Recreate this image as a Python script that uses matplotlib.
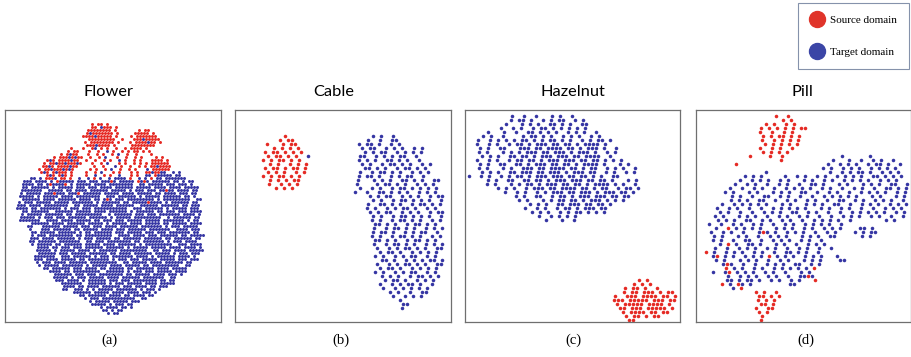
import matplotlib.pyplot as plt
from matplotlib.lines import Line2D

# t-SNE scatter maps.
# One string per grid row: "col segment col segment ...",
# r = source-domain sample, b = target-domain sample, . = empty cell.
flower_map = [
    "", "", "", "",
    "29 r.rr.r",
    "28 rr.brrr.r",
    "27 rrrrrrrr.r 44 r.rr",
    "27 rbrrrrrrr.r 43 rrrrr.r",
    "26 rrrrbrrrrr.r 42 r.rrrrrrr",
    "27 rrrrrrrrr..r 42 rrrbrrrrr",
    "26 r.rrrrrrrr.r 41 r.rrrrbrr.r",
    "27 rrrbrrrr.r 42 rrrrrrrr",
    "22 r 26 r..rb.r.r..r 37 r..r.rrrr.r",
    "20 r.rr 27 r..r..b.r..r.r.rr.r.r",
    "18 r.rbrr 27 r..r.r..r.b..r..r 48 r",
    "16 r.rrrbrbrr 28 r..r.b...r..r..r.r 50 r.r",
    "14 rbr.rrrrbrr 27 r..r..r.r..b.r..r.r 49 rrrr.r",
    "12 r.rrbrrbrrrbr 28 r..r.b...r.r..r.r.r 48 rrrrrr",
    "12 rrbr.rrrrbrr 29 r..r...b.r..r..r.r 48 rrbrrrr",
    "11 r.rrbrrrbrbr 28 r.r..r.b..r..r.r 47 b.rrrrrr",
    "12 rbr.rbrrr.r 27 r..r.b...r.r...r.r 47 rrbrrbb 56 b.b",
    "13 rbr.rbr.r 26 r..b..r.r..b...r.r..b 47 b.rbbbbb.bb",
    "8 bb.b.rrrb.rr.r 24 b..b.r.b..b.bbbb.r..b.b.r.bb.bbbbbbb",
    "6 bbb.bbbb.b.bbbbbb.bbb.bbb.bbbbb.bbbbb.bbbb.bbbbbb.bb.b.bb 17 r 35 r 44 r.r",
    "6 bbbb.bb.bbbbbbb.b.bbbbb.bbbb.bbbbbbbb..bb.bbbbb.bbb.bbb.b 15 r 20 r",
    "5 bb.bbbbbb.b.bbbbb.bbb.bbb.bbbb.bbbbbb.bbbbb.bbbb.bbbb.bbbbb",
    "5 bbbbbbb..bbbbb.bb.bbbb.bbbbbb.bbbbb.b.bbb.bbb.bbbbb.bbbb.bb 53 r",
    "5 b.bbbbb.bbb.bbb.bbbb.bbbbbb.bbbbb.bbbb.bbbbb.bb.bbbb.bbb.bb 16 r 24 r",
    "5 bbbbb.b.bbbbb.bbbb.bbbbbbbb..bbb.bbbbbb.b.bbbbb.bbbbbb.bb.b",
    "4 .bbbbbb.bbbb.bbbbbb.bbbb.bb.bbb.bbb.bbbbbbbbb.b.bbbbbbbbb..bb 33 r",
    "4 b.bbb.bbbbb.bbbbb.bbbbbbb.b.bbbbbb.bb.bbbbb.bbbb.b.bbbbbb.bb. 47 r",
    "4 bbb.bbbb.bbbbbbbb..bb.bbbbb.bbbb.bbbbbb..bbbbbb.bbbbbb.bb.bbb",
    "4 bbbb.bb.bbbbbbb.b.bbb.bbb.bbbbbbbbbbb..bbb.bbbbbb.b.bbbbb.bbb",
    "5 bb.bbbbbb..bbbbbb.bbbbb.bbbb.bbbbbb.b.bbbbbb.bb.bbb.bbb.bbbb",
    "5 b.bbbbb.bbbbbb.bb.bbbbbbbbb..b.bbbbbb.bbb.bbb.bbbbbbb.bbbb.b",
    "5 bbbbb.b.bbb.bbb.bbbbbb.bbbbbb.b.bbbbb.bbbbbbbbb..b.bbbbbb.bb",
    "5 bbbbbbb..bbbb.bbbb.bbbbb.bb.bbb.bbb.bbbbb.bbbbb.bbbbbbb.b.bb",
    "7 .bbbbbb.bbbb.bbbbbb.bbbbb.b.bbbbb.bbbb.bbbbb.bb.bbbbb.bbbb",
    "7 bb...bbbbbb.bbbbb.bbb.bbb.bbbb.bbbbbb.bbbbbbb.b.bbb.bbbbb.",
    "8 b...bbb.bbbbbb.bb.bbbbb.bbbb.bbb.bbbbbb.bbbbbbb..bbbb.bbb",
    "9 bb.bbbbb.bbbbbb.b.bb.bbbbbb.bbb.bbbbb.bbb.bbb.bbbbbbb.bb.",
    "8 b.bbb.bbbbbbbb.bb.bbbbbbbbb..bbbb.bbbb.bbb.bbbbbb.bb.bbbbb",
    "8 bbb.bbbb.bbbbbb.b.bbb.bbbbb.bb.bbbbbb.bbbbbb.bb.bbbbbb.bb.",
    "8 bb.bbbbbb.bbbbbbb..bb.bbb.bbbbbbbb.bb.bbbbbbb.b.bbb.bbbb.",
    "9 b.bbbbb.bb.bbbbbb.bbbbb.bbbb.bbbbbb.b.bbbbbbbbb..bbb.bbbb",
    "10 bbbb.bb.bbb.bbb.bbbbbb.bbbbbb.b.bbbbb.bbbbb.bbbb.bbbb.b.",
    "10 bbbbb.b.bbbbb.bbbb.b.bbbbbb.bbbbbbbbb..bb.bbb.bbbb.bbbbb",
    "10 .bbbbbb.bbb.bbbbb.bbbbbb.bb.bbbb.bbbbbb.bbbbb.b.bbb.bbb",
    "10 bbbbbbb..bbb.bbbbbb.b.bbb.bbbbbbb.bbbb.b.bbbbbb.bbbb.b.",
    "9 bbb.bbbb.bbbbb.bb.bbbbbbb.b.bbb.bbb.bbbbb.bbbbb.bbb.bbb",
    "10 b.bbb.bbbb.bbbbbb.bbbbbbbbb..bb.bbbbb.bbbb.bbbbbb.bb.",
    "11 b.bbbbb.bbbbbbb.b.bbbbb.bbbb.bbbbb.bb.bbbbbbbbb..bb",
    "13 bb.bbbbbb.bbb.bbbb.bb.bbbbb.bb.bbbbbb.bbbb.bbbbb",
    "14 bbbb.bb.bbbbbbbbb..bbbbbb.b.bbb.bbb.bbbbb.bbbb",
    "15 .bbbbbb.bbb.bbb.bbbbbbbb.bb.bbbbb.bbbb.bbb.b",
    "16 bbbbb.b.bbb.bbbbb.bbbb.bbbbbb.bbbbbbb..bb.",
    "17 bbb.bbbb.b.bbbbbb.bbb.bbb.bbbbbbbb.bb.bb",
    "18 bbbbbbb..bbbbbb.b.bbb.bbbbb.bbbb.bbbbb",
    "19 bbbb.bb.bbbb.bbbbbb.bbb.bbbb.bb.bbb",
    "19 bb..bbb.b.b.bbbbb.bbbbbbb.b.bbb.b",
    "22 .bbbbbb.bbbbb.bbbb.bbbb.bbb.b",
    "24 bb.bbbbbb.bbbb.bb.bbbb.bb",
    "26 b.bbb.bbbbbbbbbbb..bb.",
    "28 b.bbbbb.bbbbb.bbb.",
    "29 bbbbb.b.bbb.bb.",
    "31 b.bbbb.bb.b",
    "32 bb.b.bb.",
    "34 b.bb",
]

cable_map = [
    "", "", "", "", "", "",
    "12 r 34 b.b..b",
    "11 r.rr 33 b..b..bb",
    "8 r...r.rr 31 b.bb.b..b.b",
    "9 r.r.r.r 31 b.bb..b.b.b..b.b",
    "7 r.rr.r.r.r 31 .b.b.bb..b.b.b.b",
    "8 r.rr.r.r 18 b 31 bb..b.b.b.bb..b.",
    "7 r.r.rr.r.r 31 b.b.b..bb.b.b..b",
    "8 r.r..r.r.r 31 b.b..b.bb.b.b..b.b",
    "7 r.rr.r.rr.r 31 .bb.b.b..b.bb.b.b.",
    "8 r.r.r..r.r 31 b..b.bb.b.b..b.b.b",
    "7 r.r.rr.r.r 31 b.bb.b..b.b.bb..b.",
    "8 r.r.r.rr 30 b...b.b.b..bb.b.b..bb",
    "8 r..r.r.r 30 b....b.bb.b.b..b.b.b.",
    "10 r.r.r 30 .b..b.b..b.bb.b.b.b.b",
    "30 b..b..bb.b.b.b..b.b.b",
    "33 b.b.bb..b.b.b..b.bb",
    "33 .b.b..b.bb.b.b.b..b",
    "33 b..bb.b.b..b.bb.b.b",
    "33 b.b..b.b.bb.b..b.b.",
    "33 b.b.bb..b.b.b..b.bb",
    "33 .b.b..b.bb.b.b.b..b",
    "34 b.b..b.bb.b.b..b.b",
    "34 .bb.b.b..b.bb.b.b.",
    "34 b..b.bb.b.b..b.b.b",
    "34 b.bb.b..b.b.bb..b.",
    "34 b.b..b.bb.b.b..b.b",
    "34 .bb.b.b..b.bb.b.b.",
    "34 b..b.bb.b.b..b.b.b",
    "35 b..b.b.bb.b.b..bb",
    "35 .b.bb.b..b.b.b.b.",
    "35 b.b..b.b.bb..b.b.",
    "35 .bb.b..b.b.b.bb.b",
    "35 b..b.b.bb.b.b..bb",
    "35 .b.bb.b..b.b.b.b.",
    "35 b.b..b.b.bb..b.b.",
    "36 b.b.b..b.bb.b.b",
    "36 .b.bb.b..b.b.b.",
    "36 b..b.b.bb.b..b.",
    "37 b..b.b.b.b.b",
    "38 b.b..b..bb",
    "39 b..b.b.b",
    "41 b",
    "42 bb",
    "41 b",
]

hazelnut_map = [
    "",
    "11 b..b..b 21 b.b 26 b",
    "11 b.bb.b..b.b.bb..b.b",
    "10 b...b.b.b..bb.b.b..bb",
    "8 .b..b.b..b.bb.b.b.b.b 30 b",
    "5 b 9 b..b..bb.b.b.b..b.b.b 32 b",
    "4 b.b 9 b....b.bb.b.b..b.b.b. 31 b.b",
    "3 b..b.b.b.b.bb.b.b.bb.b.b..b.b.bb.b",
    "3 b..b.b..b.bb.b.bbb.bb.bb.b.bbbb.b..",
    "2 .b.b..bb...bbb.bb.bbbb.bb.b.bbb.b..b",
    "3 b.b...b.b.b.bbb.bb.bbb.b.bbb.b..b.b.",
    "2 ..b.b.b..bb.bb.b.bbb.bbb.bb.bbbb..b.",
    "3 b..b.b..b.bb.bb.b.bbb.bbb.bb.bb.b.b.b",
    "2 .b.b..bb..bb.b.bbb.bb.bb.b.bbbb.b...b.b.",
    "3 b.b...b.b..bbb.bb.bbbb.bb.b.bb..b.b.b..b",
    "2 ..b.b.b..bb.bbb.bb.bbb.b.bbb.bb..b.b..b.b",
    "1 b..b.b..b.b.bb.b.bbb.bbb.bb.bb.b.b..bb..",
    "4 .b.b..bb..bb.bb.b.bbb.bbb.bb.bb.b...b.b.",
    "5 b.b...b.b.bb.b.bbb.bb.bb.b.bbbb.b.b..b",
    "6 ..b.b.b..b.bbb.bb.bbbb.bb.b.bb..b.b 41 b.b",
    "10 b..b.b..b.b.bbb.bb.bbb.b.bbb.bb.b",
    "11 .b.b..bb..b.bb.b.bbb.bbb.bb.bb",
    "13 b.b...b.b.bb.bb.b.bbb.b.b.b",
    "14 ..b.b.b..bb.bbb.bb.bb.b",
    "15 b..b.b..b.bb.b.bbb.bb",
    "16 b.b.b..b.b.bb.b.b.b",
    "18 b..b.b.b.b",
    "20 b...b..b",
    "", "", "", "", "", "", "", "", "", "", "", "", "", "",
    "43 r.r",
    "42 r.r.r",
    "40 r.rr.r..r",
    "39 r.rr.rrr.r.rr",
    "37 r..rrr.rrrr.rr.r",
    "37 rrr.rrrrr.rrr.rr",
    "38 r.rrrrr.rrrr.r",
    "38 rr.rrr.rrrrr.r",
    "39 r.rrrr.rr.rr",
    "40 r.rr.r.rr",
    "41 rr",
]

pill_map = [
    "",
    "19 r..r",
    "21 r.r",
    "17 r.r..r.r",
    "16 r.r.r.r.r.rr",
    "15 r..r..r.r",
    "16 r.r.rr.r.r",
    "16 r..r.r.r.r",
    "17 r.r.r.r.r",
    "15 r..r.r..r",
    "16 r.r.r.r",
    "36 b 43 b 13 r 18 r..r",
    "34 b 38 b..b 44 b.b..b 21 r",
    "32 b..b.b.b..b.bb.b..b 9 r",
    "31 b.b..b.b.b..b.b.b.b",
    "17 b 33 b..b.b.bb.b..b.b.b",
    "12 b.b.b 22 b..b.b 30 b.b..b.b.b.b..bb.b.b.b",
    "10 b..b.b.b..b.b 26 b.b..b.b..b.b.b.b..b.b.b",
    "9 b..b.b..b..b.b..b..bb.b...b.b...b.b.b..bb..b",
    "8 b..b..b.b..b..b.b.b.b..b.b..b..b.b..b..bb.b.b",
    "7 b.b...b.b...b.b.b..bb..b..b.b..b..b.b.b.b..b.b",
    "7 .b.b..b..bb..b.b..b..b..b.b.b.b.b...b.b...b.b",
    "6 ..b.b.b..bb..b..b.b..b.b..b..bb..b.b..b.b.b..b",
    "5 .b..b.b.b.b.b...b.b...b.b.b..bb..b..b.b.b..b.b.b",
    "5 b..b.b..b..b..b.b.b.b.b...b.b..b.b..b..b..b.b.b",
    "4 .b.b..b..b..b.b.b..bb..b.b..b..b..b.b.b.b.b..b.b",
    "4 b.b...b.b.b..b..b.b..b.b..b..b..b.b.b..b.b..b..b",
    "3 ..b.b.b..bb..b.b..b.b..b..b.b.b.b..b 47 b.b",
    "3 b..b..b.b..b.b..b..b.b..b.b.b.b..b",
    "3 .b..b.b.b.b.b...b.b.b..b.b..b.b.b 40 bb.b 7 r",
    "3 b..b.b..b...b.b.b..b.b.b..b..b.b 39 b.b.bb 16 r",
    "4 b.b...b.b..b..b.b.b...b.b.b..bb 41 b.b",
    "3 .b.b..b..bb..b..b.b.b..b.b..b.",
    "3 ..b.b.b..bb.b...b.b..b..b.b.b. 7 r",
    "4 b..b..b.b.b..b.b..b..b.b..b..b",
    "3 .b..b.b.b..b.b..b..bb.b.b..b 2 r",
    "4 b..b.b..b.b.b...b.b.b..b.b.b 35 b 5 r 18 r",
    "4 b.b...b.b.b..b..b.b...b.b.b 35 bb",
    "5 .b.b..b..b..b.b.b..bb..b.b 7 r",
    "5 ..b.b.b..b.b..b.b.b.b.b.b 7 r 29 r",
    "4 b..b..b.b.b..b.b..b...b.b 8 r",
    "6 .b..b.b.b..b.b..b..bb.b 27 r",
    "7 bb.b.bb.b..b.b..b.b 29 r",
    "8 b.bb.b 23 bb 6 r 10 r",
    "9 b.b 11 r",
    "14 r.r..r",
    "15 rr.r.r",
    "15 r.r.r",
    "16 rr.r",
    "14 r..rr",
    "15 r.r",
    "16 r",
    "16 r",
]

panel_maps = [flower_map, cable_map, hazelnut_map, pill_map]
titles = ['Flower', 'Cable', 'Hazelnut', 'Pill']
sub_labels = ['(a)', '(b)', '(c)', '(d)']
legend_labels = ['Source domain', 'Target domain']

RED = '#e52a24'
BLUE = '#3535a3'


def decode(rows):
    # turn a row map into x / y lists for each domain
    cells = {}
    for r, line in enumerate(rows):
        parts = line.split()
        for start, seg in zip(parts[::2], parts[1::2]):
            for k, ch in enumerate(seg):
                if ch in 'rb':
                    cells[(r, int(start) + k)] = ch
    pts = {'r': ([], []), 'b': ([], [])}
    for (r, c), ch in cells.items():
        # stagger rows so the grid does not line up in columns
        shift = ((r * 3) % 4) / 4 - 0.375
        pts[ch][0].append(c + 0.5 + shift)
        pts[ch][1].append(r + 0.5)
    return pts


W, H = 912, 357
fig = plt.figure(figsize=(W / 100, H / 100), dpi=100)

# panel boxes in pixels: left, width, grid cell size
boxes = [(5, 216, 3), (235, 216, 4), (465, 215, 4), (696, 215, 4)]
title_x = [109, 334, 573, 802]
label_x = [109, 341, 573, 806]
top, bottom = 110, 321.5
dot_size = [4.6, 6.5, 6.5, 6.5]

for i, m in enumerate(panel_maps):
    left, width, cell = boxes[i]
    ax = fig.add_axes([left / W, (H - bottom) / H, width / W, (bottom - top) / H])
    pts = decode(m)
    ax.scatter(pts['b'][0], pts['b'][1], s=dot_size[i], c=BLUE, linewidths=0)
    ax.scatter(pts['r'][0], pts['r'][1], s=dot_size[i], c=RED, linewidths=0)
    ax.set_xlim(0, width / cell)
    ax.set_ylim((bottom - top) / cell, 0)
    ax.set_xticks([])
    ax.set_yticks([])
    for sp in ax.spines.values():
        sp.set_color('#6f6f6f')
        sp.set_linewidth(0.9)
    fig.text(title_x[i] / W, 1 - 92 / H, titles[i], ha='center', va='center',
             family='Lato', size=11.8)
    fig.text(label_x[i] / W, 1 - 340 / H, sub_labels[i], ha='center', va='center',
             family='Liberation Serif', size=10.5)

handles = [Line2D([], [], ls='', marker='o', ms=11.5, mfc='#e0342a', mec='#e0342a'),
           Line2D([], [], ls='', marker='o', ms=11.5, mfc='#3b45a6', mec='#3b45a6')]
leg = fig.legend(handles, legend_labels, loc='upper left',
                 bbox_to_anchor=(798 / W, 1 - 3 / H), frameon=True, fancybox=False,
                 edgecolor='#8592ab', framealpha=1,
                 prop={'family': 'Liberation Serif', 'size': 8},
                 borderpad=1.1, labelspacing=2.0, handlelength=1.2,
                 handletextpad=0.55, borderaxespad=0)
leg.get_frame().set_linewidth(0.8)

fig.savefig('out.png', dpi=100)
